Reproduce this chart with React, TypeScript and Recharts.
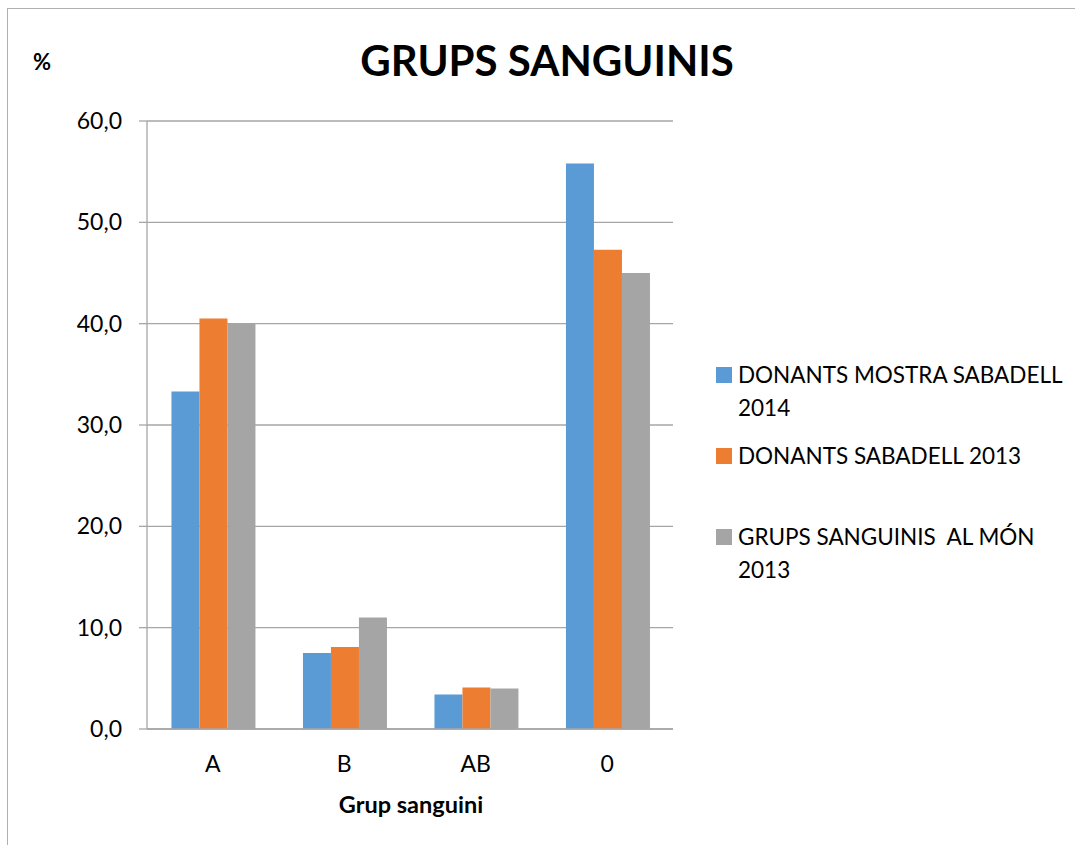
import React from "react";
import { BarChart, Bar, XAxis, YAxis, CartesianGrid } from "recharts";

const categories = ["A", "B", "AB", "0"];
const seriesNames = [
  "DONANTS MOSTRA SABADELL 2014",
  "DONANTS SABADELL 2013",
  "GRUPS SANGUINIS  AL MÓN 2013",
];
const mostra2014 = [33.3, 7.5, 3.4, 55.8];
const sabadell2013 = [40.5, 8.1, 4.1, 47.3];
const mon2013 = [40.0, 11.0, 4.0, 45.0];
const yTicks = [0, 10, 20, 30, 40, 50, 60];
const colors = ["#5B9BD5", "#ED7D31", "#A5A5A5"];

const data = categories.map((c, i) => ({
  group: c,
  s0: mostra2014[i],
  s1: sabadell2013[i],
  s2: mon2013[i],
}));

const FONT = "Lato, 'Open Sans', sans-serif";

export default function App() {
  return (
    <div
      style={{
        position: "absolute",
        left: 0,
        top: 0,
        width: 1075,
        height: 845,
        background: "#fff",
        overflow: "hidden",
        fontFamily: FONT,
      }}
    >
      <div
        style={{
          position: "absolute",
          left: 7,
          top: 8,
          width: 1200,
          height: 1000,
          borderLeft: "1.5px solid #b0b0b0",
          borderTop: "1.5px solid #b0b0b0",
        }}
      />
      <div
        style={{
          position: "absolute",
          left: 0,
          width: 1094,
          top: 30,
          textAlign: "center",
          fontWeight: 700,
          fontSize: 42,
          lineHeight: "60px",
          color: "#000",
        }}
      >
        GRUPS SANGUINIS
      </div>
      <div
        style={{
          position: "absolute",
          left: 33,
          top: 47,
          fontWeight: 700,
          fontSize: 22,
          lineHeight: "30px",
          color: "#000",
        }}
      >
        %
      </div>
      <div
        style={{
          position: "absolute",
          left: 210,
          width: 402,
          top: 788,
          textAlign: "center",
          fontWeight: 700,
          fontSize: 23.5,
          lineHeight: "32px",
          color: "#000",
        }}
      >
        Grup sanguini
      </div>
      <div
        style={{
          position: "absolute",
          left: 716,
          top: 358,
          width: 360,
          fontSize: 22.5,
          color: "#000",
        }}
      >
        {seriesNames.map((n, i) => (
          <div key={n} style={{ display: "flex", height: 81, alignItems: "flex-start" }}>
            <div
              style={{
                width: 16,
                height: 16,
                background: colors[i],
                marginTop: 9,
                marginRight: 6,
                flex: "0 0 auto",
              }}
            />
            <div style={{ width: 335, lineHeight: "33px", whiteSpace: "pre-wrap" }}>{n}</div>
          </div>
        ))}
      </div>
      <div style={{ position: "absolute", left: 0, top: 0 }}>
        <BarChart
          width={1075}
          height={845}
          data={data}
          margin={{ top: 121, right: 402, bottom: 56, left: 0 }}
          barCategoryGap="18.6%"
          barGap={0}
        >
          <CartesianGrid vertical={false} stroke="#a6a6a6" strokeWidth={1.3} />
          <XAxis
            dataKey="group"
            height={60}
            axisLine={{ stroke: "#a6a6a6", strokeWidth: 1.3 }}
            tickLine={false}
            tickSize={0}
            tickMargin={27}
            tick={{ fontSize: 23, fill: "#000", fontFamily: FONT }}
          />
          <YAxis
            width={147}
            domain={[0, 60]}
            ticks={yTicks}
            interval={0}
            axisLine={{ stroke: "#a6a6a6", strokeWidth: 1.3 }}
            tickLine={{ stroke: "#a6a6a6", strokeWidth: 1.3 }}
            tickSize={8}
            tickMargin={17}
            tickFormatter={(v: number) => v.toFixed(1).replace(".", ",")}
            tick={{ fontSize: 23, fill: "#000", fontFamily: FONT }}
          />
          {seriesNames.map((n, i) => (
            <Bar
              key={n}
              dataKey={`s${i}`}
              name={n}
              fill={colors[i]}
              isAnimationActive={false}
            />
          ))}
        </BarChart>
      </div>
    </div>
  );
}
